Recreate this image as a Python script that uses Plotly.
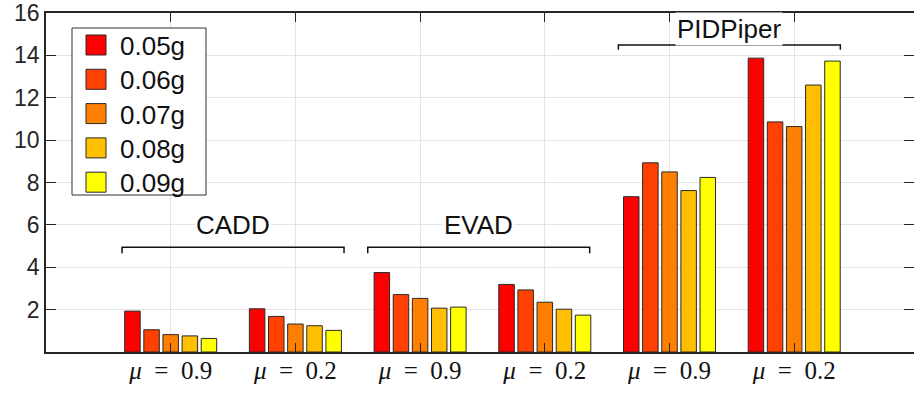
import plotly.graph_objects as go

# ---- data ----
series_names = ["0.05g", "0.06g", "0.07g", "0.08g", "0.09g"]
series_colors = ["#FF0000", "#FF4000", "#FF8000", "#FFBF00", "#FFFF00"]
tick_labels = ["<i>μ</i>&nbsp;&nbsp;=&nbsp;&nbsp;0.9", "<i>μ</i>&nbsp;&nbsp;=&nbsp;&nbsp;0.2",
               "<i>μ</i>&nbsp;&nbsp;=&nbsp;&nbsp;0.9", "<i>μ</i>&nbsp;&nbsp;=&nbsp;&nbsp;0.2",
               "<i>μ</i>&nbsp;&nbsp;=&nbsp;&nbsp;0.9", "<i>μ</i>&nbsp;&nbsp;=&nbsp;&nbsp;0.2"]
group_names = ["CADD", "EVAD", "PIDPiper"]
v005 = [1.93, 2.04, 3.75, 3.19, 7.33, 13.87]
v006 = [1.05, 1.68, 2.71, 2.93, 8.93, 10.86]
v007 = [0.82, 1.32, 2.53, 2.35, 8.50, 10.64]
v008 = [0.76, 1.24, 2.07, 2.02, 7.62, 12.60]
v009 = [0.64, 1.02, 2.12, 1.74, 8.24, 13.73]
series_values = [v005, v006, v007, v008, v009]
y_ticks = [2, 4, 6, 8, 10, 12, 14, 16]

# ---- geometry helpers (window pixels -> paper) ----
W, H = 914, 394
L, R, T, B = 46, 914, 13, 352   # plot area in window pixels


def px(x):
    return (x - L) / (R - L)


def py(y):
    return (B - y) / (B - T)


xpos = list(range(1, len(tick_labels) + 1))
fig = go.Figure()
for name, col, vals in zip(series_names, series_colors, series_values):
    fig.add_trace(go.Bar(x=xpos, y=vals, name=name, marker_color=col,
                         marker_line=dict(color="#2a2a2a", width=1),
                         showlegend=False))
fig.add_trace(go.Scatter(x=[None], y=[None], yaxis="y2", showlegend=False,
                         hoverinfo="skip"))

shapes = []
annotations = []
# group brackets and labels (data coords)
bracket_specs = [(1.5, 4.94, 4.66, 5.98), (3.47, 4.94, 4.66, 5.98),
                 (5.48, 14.49, 14.26, 15.25)]
for gname, (cx, yb, ye, yt) in zip(group_names, bracket_specs):
    x0, x1 = cx - 0.89, cx + 0.89
    shapes.append(dict(type="path", xref="x", yref="y",
                       path=f"M{x0},{ye} L{x0},{yb} L{x1},{yb} L{x1},{ye}",
                       line=dict(color="#111111", width=1.5)))
    annotations.append(dict(x=cx, y=yt, xref="x", yref="y", text=gname,
                            showarrow=False, bgcolor="white",
                            font=dict(family="Liberation Sans", size=26,
                                      color="#111111")))

# manual legend
shapes.append(dict(type="rect", xref="paper", yref="paper",
                   x0=px(72), x1=px(206), y0=py(195), y1=py(28),
                   line=dict(color="#333333", width=1), fillcolor="white",
                   layer="above"))
for i, (name, col) in enumerate(zip(series_names, series_colors)):
    cy = 45 + i * 34.3
    shapes.append(dict(type="rect", xref="paper", yref="paper",
                       x0=px(86), x1=px(106), y0=py(cy + 10), y1=py(cy - 10),
                       line=dict(color="#2a2a2a", width=1), fillcolor=col,
                       layer="above"))
    annotations.append(dict(x=px(118), y=py(cy + 1), xref="paper", yref="paper",
                            text=name, showarrow=False, xanchor="left",
                            yanchor="middle",
                            font=dict(family="Liberation Sans", size=26,
                                      color="#111111")))

fig.update_layout(
    width=W, height=H,
    margin=dict(l=L, r=W - R, t=T, b=H - B, pad=0),
    paper_bgcolor="white", plot_bgcolor="white",
    barmode="group", bargap=0.233, bargroupgap=0.19,
    shapes=shapes, annotations=annotations,
    xaxis=dict(range=[0, (R - L) / 124.7], tickvals=xpos, ticktext=tick_labels,
               ticks="inside", ticklen=9, tickwidth=1.2, tickcolor="#262626",
               showline=True, linecolor="#262626", linewidth=1.5,
               mirror="ticks", showgrid=True, gridcolor="#e3e3e3",
               gridwidth=1, zeroline=False, automargin=False,
               ticklabeloverflow="allow", ticklabelstandoff=-5,
               tickfont=dict(family="Liberation Serif", size=25,
                             color="#111111")),
    yaxis=dict(range=[0, 16], tickvals=y_ticks, ticks="inside", ticklen=10,
               tickwidth=1.2, tickcolor="#262626", showline=True,
               linecolor="#262626", linewidth=1.5, mirror=False,
               showgrid=True, gridcolor="#e3e3e3", gridwidth=1,
               zeroline=False, automargin=False, ticklabeloverflow="allow",
               tickfont=dict(family="Liberation Sans", size=23,
                             color="#262626")),
    yaxis2=dict(range=[0, 16], tickvals=y_ticks, ticks="inside", ticklen=10,
                tickwidth=1.2, tickcolor="#262626", overlaying="y",
                side="right", showticklabels=False, showgrid=False,
                showline=False, zeroline=False),
)

fig.write_html("out.html",
               config={"displayModeBar": False},
               post_script="document.body.style.margin='0';"
                           "document.body.style.overflow='hidden';")
